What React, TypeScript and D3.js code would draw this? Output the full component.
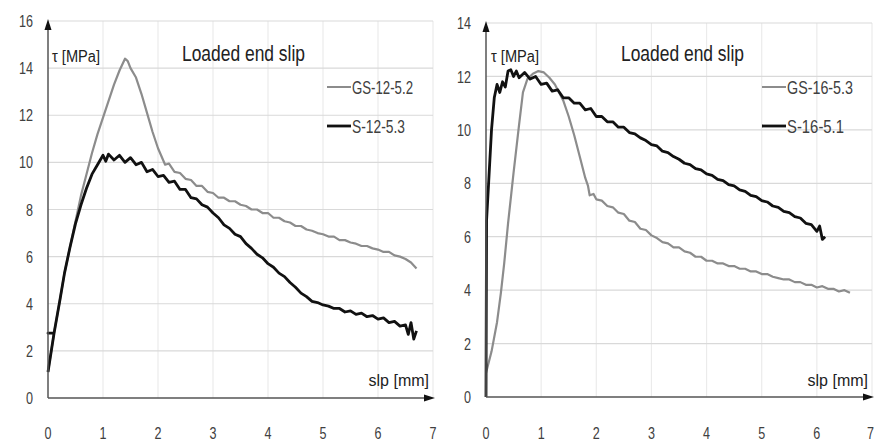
import * as d3 from "d3";
import React from "react";

const W = 876;
const H = 448;
const FONT = "'Liberation Sans Narrow', 'Arial Narrow', 'Liberation Sans', sans-serif";

// tick labels
const xTicks = [0, 1, 2, 3, 4, 5, 6, 7];
const yTicksLeft = [0, 2, 4, 6, 8, 10, 12, 14, 16];
const yTicksRight = [0, 2, 4, 6, 8, 10, 12, 14];

// left panel: slip [mm], tau [MPa]
const gs12: [number, number][] = [
  [0, 1.1], [0.11, 2.75], [0.22, 4.2], [0.3, 5.3], [0.4, 6.4], [0.5, 7.5], [0.6, 8.6], [0.7, 9.5],
  [0.8, 10.4], [0.9, 11.2], [1.0, 11.9], [1.1, 12.6], [1.2, 13.3], [1.3, 13.9], [1.4, 14.4],
  [1.45, 14.3], [1.5, 14.0], [1.6, 13.6], [1.7, 12.9], [1.8, 12.1], [1.9, 11.3], [2.0, 10.6],
  [2.13, 9.9], [2.2, 9.95], [2.3, 9.6], [2.4, 9.55], [2.5, 9.3], [2.6, 9.25], [2.7, 9.0], [2.8, 9.0],
  [2.9, 8.75], [3.0, 8.7], [3.1, 8.5], [3.2, 8.5], [3.3, 8.35], [3.4, 8.35], [3.5, 8.2], [3.6, 8.15],
  [3.7, 8.0], [3.8, 8.0], [3.9, 7.85], [4.0, 7.85], [4.1, 7.65], [4.2, 7.65], [4.3, 7.5], [4.4, 7.45],
  [4.5, 7.3], [4.6, 7.3], [4.7, 7.15], [4.8, 7.1], [4.9, 7.0], [5.0, 6.95], [5.1, 6.85], [5.2, 6.85],
  [5.3, 6.7], [5.4, 6.7], [5.5, 6.6], [5.6, 6.55], [5.7, 6.45], [5.8, 6.45], [5.9, 6.35], [6.0, 6.3],
  [6.1, 6.2], [6.2, 6.2], [6.3, 6.05], [6.4, 6.0], [6.5, 5.9], [6.6, 5.75], [6.7, 5.5],
];
const s12: [number, number][] = [
  [0, 1.1], [0.11, 2.75], [0, 2.75], [0.11, 2.75], [0.22, 4.2], [0.3, 5.3], [0.4, 6.4], [0.5, 7.4],
  [0.6, 8.2], [0.7, 8.9], [0.8, 9.5], [0.9, 9.9], [1.0, 10.3], [1.05, 10.05], [1.1, 10.35],
  [1.2, 10.1], [1.3, 10.3], [1.4, 10.0], [1.5, 10.2], [1.6, 9.9], [1.7, 10.0], [1.8, 9.6], [1.9, 9.7],
  [2.0, 9.4], [2.1, 9.45], [2.2, 9.15], [2.3, 9.2], [2.4, 8.85], [2.5, 8.85], [2.6, 8.5], [2.7, 8.45],
  [2.8, 8.2], [2.9, 8.1], [3.0, 7.85], [3.1, 7.65], [3.2, 7.35], [3.3, 7.2], [3.4, 6.95], [3.5, 6.85],
  [3.6, 6.55], [3.7, 6.35], [3.8, 6.1], [3.9, 5.95], [4.0, 5.7], [4.1, 5.55], [4.2, 5.3], [4.3, 5.15],
  [4.4, 4.9], [4.5, 4.7], [4.6, 4.45], [4.7, 4.3], [4.8, 4.1], [4.9, 4.05], [5.0, 3.95], [5.1, 3.9],
  [5.2, 3.8], [5.3, 3.8], [5.4, 3.65], [5.5, 3.7], [5.6, 3.55], [5.7, 3.6], [5.8, 3.45], [5.9, 3.5],
  [6.0, 3.35], [6.1, 3.4], [6.2, 3.2], [6.3, 3.25], [6.4, 3.05], [6.5, 3.1], [6.55, 2.7], [6.6, 3.2],
  [6.65, 2.5], [6.7, 2.85],
];

// right panel
const gs16: [number, number][] = [
  [0, 0.9], [0.1, 1.7], [0.2, 2.8], [0.27, 3.9], [0.33, 5.0], [0.4, 6.5], [0.5, 8.4], [0.6, 10.2],
  [0.67, 11.4], [0.75, 11.9], [0.85, 12.1], [0.95, 12.2], [1.05, 12.15], [1.15, 11.95], [1.25, 11.7],
  [1.4, 11.1], [1.5, 10.5], [1.6, 9.8], [1.7, 9.0], [1.8, 8.2], [1.85, 7.9], [1.88, 7.55], [1.95, 7.6],
  [2.0, 7.4], [2.1, 7.35], [2.2, 7.15], [2.3, 7.1], [2.4, 6.9], [2.5, 6.85], [2.6, 6.6], [2.7, 6.55],
  [2.8, 6.3], [2.9, 6.25], [3.0, 6.05], [3.1, 5.95], [3.2, 5.8], [3.3, 5.75], [3.4, 5.6], [3.5, 5.6],
  [3.6, 5.45], [3.7, 5.4], [3.8, 5.25], [3.9, 5.25], [4.0, 5.1], [4.1, 5.1], [4.2, 5.0], [4.3, 5.0],
  [4.4, 4.9], [4.5, 4.9], [4.6, 4.8], [4.7, 4.8], [4.8, 4.7], [4.9, 4.7], [5.0, 4.6], [5.1, 4.6],
  [5.2, 4.5], [5.3, 4.45], [5.4, 4.4], [5.5, 4.4], [5.6, 4.3], [5.7, 4.3], [5.8, 4.2], [5.9, 4.2],
  [6.0, 4.1], [6.1, 4.15], [6.2, 4.05], [6.3, 4.05], [6.4, 3.95], [6.5, 4.0], [6.6, 3.9],
];
const s16: [number, number][] = [
  [0, 0], [0.01, 6.6], [0.05, 8.1], [0.1, 10.0], [0.15, 11.2], [0.2, 11.7], [0.25, 11.4], [0.3, 11.8],
  [0.35, 11.6], [0.4, 12.2], [0.45, 12.25], [0.5, 12.0], [0.55, 12.2], [0.6, 11.95], [0.7, 12.15],
  [0.8, 11.9], [0.9, 12.0], [1.0, 11.7], [1.1, 11.75], [1.2, 11.45], [1.3, 11.5], [1.4, 11.2],
  [1.5, 11.2], [1.6, 11.0], [1.7, 11.0], [1.8, 10.75], [1.9, 10.8], [2.0, 10.5], [2.1, 10.5],
  [2.2, 10.3], [2.3, 10.3], [2.4, 10.1], [2.5, 10.1], [2.6, 9.9], [2.7, 9.85], [2.8, 9.7], [2.9, 9.6],
  [3.0, 9.45], [3.1, 9.4], [3.2, 9.2], [3.3, 9.15], [3.4, 9.0], [3.5, 8.9], [3.6, 8.75], [3.7, 8.7],
  [3.8, 8.55], [3.9, 8.5], [4.0, 8.35], [4.1, 8.3], [4.2, 8.15], [4.3, 8.1], [4.4, 7.95], [4.5, 7.9],
  [4.6, 7.75], [4.7, 7.7], [4.8, 7.55], [4.9, 7.5], [5.0, 7.35], [5.1, 7.3], [5.2, 7.15], [5.3, 7.1],
  [5.4, 6.95], [5.5, 6.9], [5.6, 6.75], [5.7, 6.7], [5.8, 6.5], [5.9, 6.45], [6.0, 6.2], [6.05, 6.4],
  [6.1, 5.9], [6.15, 6.0],
];

const GRAY = "#8c8c8c";
const BLACK = "#111";

function Panel({ x0, x7, y0, yTop, yMax, yTicks, gray, black, grayName, blackName, titleX, legendX, tauX, grayLen, blackLen }) {
  const x = d3.scaleLinear().domain([0, 7]).range([x0, x7]);
  const y = d3.scaleLinear().domain([0, yMax]).range([y0, yTop]);
  const line = d3
    .line<[number, number]>()
    .x((d) => x(d[0]))
    .y((d) => y(d[1]));

  return (
    <g fontFamily={FONT}>
      {/* grid */}
      {xTicks.slice(1).map((t) => (
        <line key={"vx" + t} x1={x(t)} x2={x(t)} y1={y0} y2={yTop} stroke="#ebebeb" strokeWidth={1.2} />
      ))}
      {yTicks.slice(1).map((t) => (
        <line key={"hy" + t} x1={x0} x2={x7} y1={y(t)} y2={y(t)} stroke="#d9d9d9" strokeWidth={1.2} />
      ))}

      {/* tick labels */}
      {yTicks.map((t) => {
        const len = String(t).length * 7;
        return (
          <text key={"ly" + t} x={x0 - 15 - len} y={y(t)} dy="0.36em" fontSize={17} fill="#404040"
            textLength={len} lengthAdjust="spacingAndGlyphs">
            {t}
          </text>
        );
      })}
      {xTicks.map((t) => (
        <text key={"lx" + t} x={Math.min(x(t) - 3.5, W - 9)} y={439} fontSize={17} fill="#404040"
          textLength={7} lengthAdjust="spacingAndGlyphs">
          {t}
        </text>
      ))}

      {/* series */}
      <path d={line(gray)} fill="none" stroke={GRAY} strokeWidth={2.2} strokeLinejoin="round" />
      <path d={line(black)} fill="none" stroke={BLACK} strokeWidth={2.8} strokeLinejoin="round" />

      {/* axes with arrows */}
      <line x1={x0} x2={x0} y1={y0} y2={yTop + 8} stroke="#555" strokeWidth={1.5} />
      <path d={`M${x0},${yTop - 2} L${x0 - 3.5},${yTop + 9} L${x0 + 3.5},${yTop + 9} Z`} fill="#111" />
      <line x1={x0} x2={x7 - 8} y1={y0} y2={y0} stroke="#555" strokeWidth={1.5} />
      <path d={`M${x7 + 2},${y0} L${x7 - 9},${y0 - 3.5} L${x7 - 9},${y0 + 3.5} Z`} fill="#111" />

      {/* labels */}
      <text x={tauX} y={62} fontSize={16} fill="#222" textLength={48} lengthAdjust="spacingAndGlyphs">τ [MPa]</text>
      <text x={titleX - 61} y={61} fontSize={22} fill="#222" textLength={123} lengthAdjust="spacingAndGlyphs">Loaded end slip</text>
      <text x={x7 - 4} y={386} fontSize={16} fill="#222" textAnchor="end">slp [mm]</text>

      {/* legend */}
      <line x1={legendX} x2={legendX + 24} y1={87} y2={87} stroke={GRAY} strokeWidth={2} />
      <text x={legendX + 25} y={94} fontSize={18} fill="#404040" textLength={grayLen} lengthAdjust="spacingAndGlyphs">{grayName}</text>
      <line x1={legendX} x2={legendX + 24} y1={126} y2={126} stroke={BLACK} strokeWidth={2.8} />
      <text x={legendX + 25} y={133} fontSize={18} fill="#404040" textLength={blackLen} lengthAdjust="spacingAndGlyphs">{blackName}</text>
    </g>
  );
}

export default function App() {
  return (
    <div style={{ position: "absolute", left: 0, top: 0, width: W, height: H, background: "#fff" }}>
      <svg width={W} height={H} style={{ display: "block" }}>
        <rect width={W} height={H} fill="#fff" />
        <Panel
          x0={48} x7={433} y0={398} yTop={21} yMax={16} yTicks={yTicksLeft}
          gray={gs12} black={s12} grayName="GS-12-5.2" blackName="S-12-5.3"
          titleX={243} legendX={327} tauX={52} grayLen={61} blackLen={53}
        />
        <Panel
          x0={486} x7={872} y0={397} yTop={23} yMax={14} yTicks={yTicksRight}
          gray={gs16} black={s16} grayName="GS-16-5.3" blackName="S-16-5.1"
          titleX={682} legendX={762} tauX={491} grayLen={66} blackLen={57}
        />
      </svg>
    </div>
  );
}
